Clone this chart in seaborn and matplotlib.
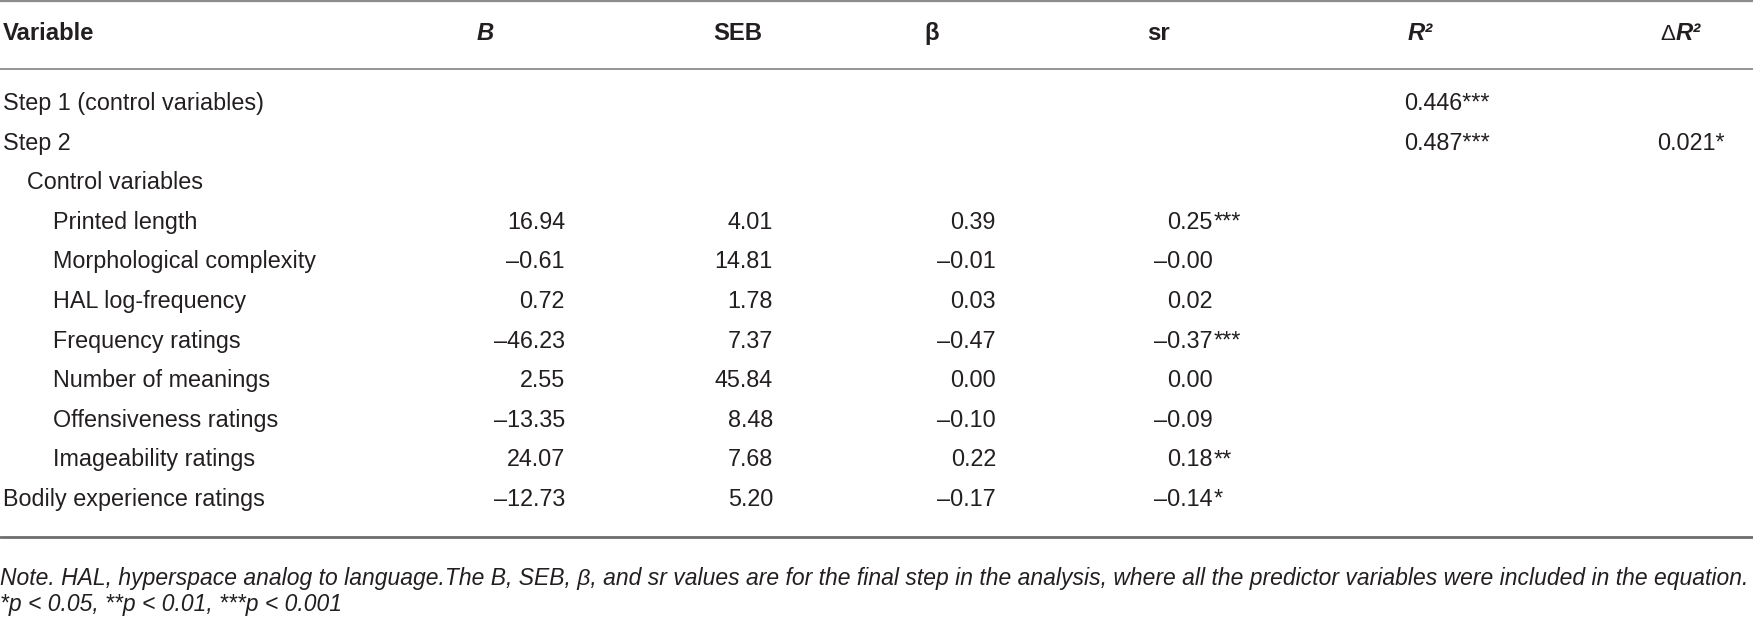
import math
import matplotlib
matplotlib.use("Agg")
import matplotlib.pyplot as plt
import seaborn as sns

nan = math.nan

# ---------------- data ----------------
variables = ["Step 1 (control variables)", "Step 2", "Control variables",
             "Printed length", "Morphological complexity", "HAL log-frequency",
             "Frequency ratings", "Number of meanings", "Offensiveness ratings",
             "Imageability ratings", "Bodily experience ratings"]
indent_level = [0, 0, 1, 2, 2, 2, 2, 2, 2, 2, 0]
B_vals = [nan, nan, nan, 16.94, -0.61, 0.72, -46.23, 2.55, -13.35, 24.07, -12.73]
SEB_vals = [nan, nan, nan, 4.01, 14.81, 1.78, 7.37, 45.84, 8.48, 7.68, 5.20]
beta_vals = [nan, nan, nan, 0.39, -0.01, 0.03, -0.47, 0.00, -0.10, 0.22, -0.17]
sr_vals = [nan, nan, nan, 0.25, -0.0, 0.02, -0.37, 0.00, -0.09, 0.18, -0.14]
sr_sig = ["", "", "", "***", "", "", "***", "", "", "**", "*"]
R2_vals = [0.446, 0.487, nan, nan, nan, nan, nan, nan, nan, nan, nan]
R2_sig = ["***", "***", "", "", "", "", "", "", "", "", ""]
dR2_vals = [nan, 0.021, nan, nan, nan, nan, nan, nan, nan, nan, nan]
dR2_sig = ["", "*", "", "", "", "", "", "", "", "", ""]

note_line1 = ("Note. HAL, hyperspace analog to language.The B, SEB, \u03b2, and sr values are for the "
              "final step in the analysis, where all the predictor variables were included in the equation.")
note_line2 = "*p < 0.05, **p < 0.01, ***p < 0.001"

# ---------------- style ----------------
sns.set_theme(style="white")
plt.rcParams["font.family"] = ["Liberation Sans", "DejaVu Sans"]

W, H = 1753, 617
fig = plt.figure(figsize=(W / 100, H / 100), dpi=100)
ax = fig.add_axes([0, 0, 1, 1])
ax.set_xlim(0, W)
ax.set_ylim(H, 0)
ax.axis("off")
renderer = fig.canvas.get_renderer()

TXT = "#231f20"
FS = 16.8
HFS = 17.2

def fmt(v, nd=2):
    s = f"{v:.{nd}f}"
    return s.replace("-", "\u2013")

# rules
ax.axhline(1.2, color="#8c8c8c", lw=1.6)
ax.axhline(69, color="#8c8c8c", lw=1.3)
ax.axhline(537, color="#6e6e6e", lw=2.0)

# header
hb = 40
hkw = dict(fontsize=HFS, fontweight="bold", color=TXT, va="baseline", ha="left")
ax.text(3, hb, "Variable", **hkw)
ax.text(477, hb, "B", fontstyle="italic", **hkw)
ax.text(713, hb, "SEB", **hkw)
ax.text(924, hb, "\u03b2", **hkw)
ax.text(1147, hb, "sr", **hkw)
ax.text(1408, hb, "R\u00b2", fontstyle="italic", **hkw)
d = ax.text(1660, hb, "\u0394", fontsize=HFS - 1, fontweight="normal", color=TXT, va="baseline")
dw = d.get_window_extent(renderer).width
ax.text(1660 + dw + 1, hb, "R\u00b2", fontstyle="italic", **hkw)

# body rows
y0, dy = 110, 39.6
indent_x = [3, 27, 53]
for i, name in enumerate(variables):
    yb = y0 + i * dy
    kw = dict(fontsize=FS, fontweight="normal", color=TXT, va="baseline")
    ax.text(indent_x[indent_level[i]], yb, name, ha="left", **kw)
    if not math.isnan(B_vals[i]):
        ax.text(565, yb, fmt(B_vals[i]), ha="right", **kw)
    if not math.isnan(SEB_vals[i]):
        ax.text(773, yb, fmt(SEB_vals[i]), ha="right", **kw)
    if not math.isnan(beta_vals[i]):
        ax.text(996, yb, fmt(beta_vals[i]), ha="right", **kw)
    if not math.isnan(sr_vals[i]):
        ax.text(1213, yb, fmt(sr_vals[i]), ha="right", **kw)
        if sr_sig[i]:
            ax.text(1214, yb, sr_sig[i], ha="left", **kw)
    if not math.isnan(R2_vals[i]):
        ax.text(1404, yb, fmt(R2_vals[i], 3) + R2_sig[i], ha="left", **kw)
    if not math.isnan(dR2_vals[i]):
        ax.text(1657, yb, fmt(dR2_vals[i], 3) + dR2_sig[i], ha="left", **kw)

# notes
nfs = 16.0
t1 = ax.text(0, 585, note_line1, fontsize=nfs, fontstyle="italic",
             color=TXT, va="baseline", ha="left")
w1 = t1.get_window_extent(renderer).width
target = 1749
nfs = min(max(nfs * target / w1, 13.0), 17.0)
t1.set_fontsize(nfs)
ax.text(0, 611, note_line2, fontsize=nfs, fontstyle="italic",
        color=TXT, va="baseline", ha="left")

fig.savefig("out.png", dpi=100)
